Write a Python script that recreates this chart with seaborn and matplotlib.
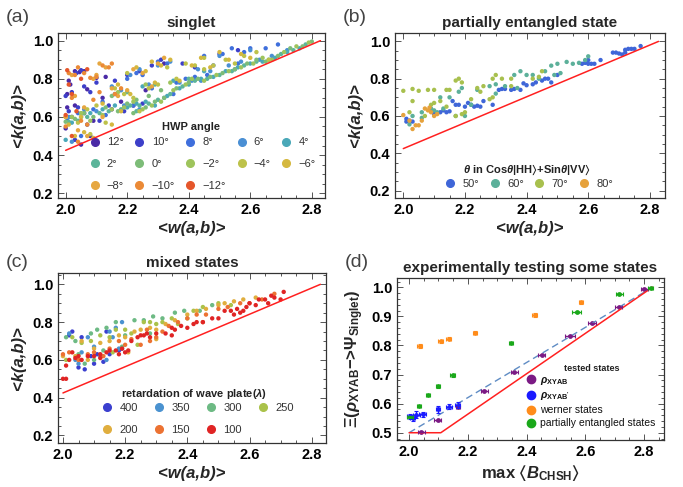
import pandas as pd
import seaborn as sns
import matplotlib.pyplot as plt
from matplotlib.ticker import MultipleLocator
from matplotlib.lines import Line2D

# ---------------- (a) singlet, points per HWP angle ----------------
hwp_p12 = [(2.03,0.84),(2.045,0.835),(2.06,0.84),(2.005,0.72),(2.01,0.79),(2.07,0.745),(2.005,0.65),(2.03,0.66),
           (2.08,0.5),(2.05,0.455),(2.13,0.81),(2.10,0.805),(2.02,0.6),(2.12,0.7),(2.0,0.54),(2.015,0.77),
           (2.06,0.62),(2.09,0.58),(2.15,0.64),(2.18,0.68),(2.22,0.66),(2.26,0.74),(2.32,0.88)]
hwp_p10 = [(2.035,0.83),(2.05,0.845),(2.0,0.71),(2.02,0.73),(2.06,0.76),(2.08,0.73),(2.01,0.63),(2.04,0.65),
           (2.07,0.56),(2.03,0.48),(2.1,0.78),(2.16,0.79),(2.2,0.82),(2.24,0.84),(2.28,0.87),(2.31,0.9),
           (2.38,0.88),(2.14,0.66),(2.19,0.63),(2.25,0.67),(2.42,0.86),(2.5,0.93),(2.56,0.95),(2.11,0.58)]
hwp_p8 = [(2.005,0.58),(2.04,0.62),(2.09,0.64),(2.12,0.68),(2.16,0.72),(2.2,0.8),(2.23,0.83),(2.25,0.82),
          (2.3,0.89),(2.33,0.88),(2.36,0.78),(2.39,0.8),(2.42,0.81),(2.45,0.92),(2.48,0.87),(2.51,0.93),
          (2.54,0.96),(2.58,0.94),(2.6,0.96),(2.65,0.96),(2.69,0.98),(2.22,0.66),(2.28,0.75),(2.05,0.5),
          (2.13,0.61),(2.35,0.72),(2.46,0.82),(2.56,0.88)]
hwp_p6 = [(2.01,0.6),(2.02,0.47),(2.06,0.64),(2.1,0.63),(2.15,0.76),(2.18,0.74),(2.21,0.82),(2.24,0.85),
          (2.27,0.77),(2.3,0.87),(2.34,0.89),(2.37,0.78),(2.41,0.79),(2.43,0.85),(2.47,0.84),(2.5,0.92),
          (2.53,0.87),(2.57,0.89),(2.6,0.95),(2.63,0.9),(2.67,0.92),(2.72,0.95),(2.24,0.64),(2.19,0.66),
          (2.32,0.7),(2.44,0.79),(2.55,0.85)]
hwp_p4 = [(2.0,0.48),(2.02,0.57),(2.05,0.6),(2.08,0.62),(2.12,0.64),(2.16,0.66),(2.2,0.65),(2.23,0.67),
          (2.26,0.68),(2.29,0.66),(2.33,0.71),(2.37,0.75),(2.4,0.77),(2.44,0.8),(2.48,0.81),(2.52,0.84),
          (2.56,0.86),(2.6,0.88),(2.64,0.89),(2.68,0.91),(2.72,0.94),(2.76,0.96),(2.25,0.76),(2.35,0.79),
          (2.45,0.84)]
hwp_p2 = [(2.01,0.575),(2.04,0.58),(2.07,0.6),(2.11,0.62),(2.14,0.63),(2.18,0.64),(2.21,0.66),(2.24,0.66),
          (2.27,0.67),(2.3,0.69),(2.34,0.72),(2.38,0.76),(2.42,0.79),(2.46,0.8),(2.5,0.82),(2.54,0.84),
          (2.58,0.87),(2.62,0.89),(2.66,0.9),(2.7,0.93),(2.74,0.95),(2.78,0.98),(2.2,0.73),(2.29,0.77),
          (2.4,0.8),(2.23,0.63)]
hwp_0 = [(2.0,0.575),(2.03,0.59),(2.06,0.62),(2.09,0.6),(2.13,0.65),(2.17,0.63),(2.2,0.67),(2.23,0.69),
         (2.26,0.65),(2.29,0.68),(2.32,0.7),(2.36,0.75),(2.4,0.78),(2.43,0.8),(2.47,0.81),(2.51,0.83),
         (2.55,0.85),(2.59,0.88),(2.62,0.9),(2.65,0.89),(2.69,0.92),(2.73,0.96),(2.77,0.97),(2.8,0.995),
         (2.22,0.62),(2.27,0.71),(2.31,0.74),(2.15,0.71)]
hwp_m2 = [(2.02,0.6),(2.05,0.62),(2.08,0.58),(2.12,0.61),(2.15,0.64),(2.19,0.65),(2.22,0.68),(2.25,0.64),
          (2.28,0.66),(2.31,0.68),(2.35,0.74),(2.39,0.77),(2.41,0.8),(2.45,0.79),(2.49,0.82),(2.53,0.84),
          (2.57,0.86),(2.61,0.88),(2.64,0.91),(2.67,0.9),(2.71,0.94),(2.75,0.97),(2.79,0.99),(2.17,0.73),
          (2.26,0.77),(2.34,0.78)]
hwp_m4 = [(2.0,0.6),(2.04,0.57),(2.07,0.64),(2.1,0.66),(2.13,0.57),(2.16,0.75),(2.19,0.72),(2.22,0.7),
          (2.24,0.63),(2.27,0.75),(2.3,0.77),(2.33,0.86),(2.36,0.8),(2.39,0.88),(2.42,0.87),(2.45,0.85),
          (2.48,0.87),(2.52,0.9),(2.55,0.88),(2.58,0.92),(2.62,0.94),(2.66,0.9),(2.2,0.83),(2.08,0.51),
          (2.45,0.91)]
hwp_m6 = [(2.01,0.56),(2.03,0.5),(2.06,0.52),(2.09,0.49),(2.12,0.67),(2.15,0.56),(2.17,0.77),(2.21,0.72),
          (2.23,0.86),(2.26,0.84),(2.29,0.78),(2.31,0.87),(2.34,0.9),(2.37,0.79),(2.41,0.87),(2.44,0.91),
          (2.47,0.86),(2.5,0.94),(2.53,0.9),(2.57,0.93),(2.6,0.91),(2.18,0.63),(2.05,0.6),(2.28,0.89)]
hwp_m8 = [(2.0,0.6),(2.02,0.82),(2.04,0.53),(2.07,0.5),(2.09,0.8),(2.1,0.82),(2.13,0.86),(2.15,0.75),
          (2.17,0.71),(2.2,0.74),(2.22,0.85),(2.25,0.83),(2.28,0.76),(2.3,0.88),(2.03,0.71),(2.06,0.65),
          (2.12,0.6),(2.32,0.91),(2.11,0.88)]
hwp_m10 = [(2.01,0.83),(2.03,0.82),(2.04,0.86),(2.06,0.83),(2.08,0.805),(2.1,0.81),(2.12,0.87),(2.14,0.86),
           (2.15,0.88),(2.02,0.7),(2.05,0.58),(2.07,0.56),(2.0,0.55),(2.11,0.73),(2.16,0.72),(2.18,0.75),
           (2.04,0.47),(2.09,0.69)]
hwp_m12 = [(2.005,0.845),(2.01,0.77),(2.02,0.72),(2.0,0.61),(2.035,0.63),(2.05,0.8),(2.07,0.85),(2.02,0.5)]

hwp_labels = ['12°', '10°', '8°', '6°', '4°', '2°', '0°', '−2°', '−4°', '−6°', '−8°', '−10°', '−12°']
hwp_colors = ['#4a2aa6', '#3d3fc9', '#3f6fdc', '#4a8fd4', '#4aa8b8', '#5cb59a', '#7dbc78',
              '#9ec45c', '#bdc24a', '#d5b83f', '#e6a740', '#eb8a36', '#e5562b']
hwp_sets = [hwp_p12, hwp_p10, hwp_p8, hwp_p6, hwp_p4, hwp_p2, hwp_0,
            hwp_m2, hwp_m4, hwp_m6, hwp_m8, hwp_m10, hwp_m12]

# ---------------- (b) partially entangled state ----------------
pe_50 = [(2.01,0.57),(2.02,0.575),(2.03,0.57),(2.01,0.585),(2.09,0.625),(2.1,0.61),(2.12,0.62),(2.13,0.63),
         (2.14,0.62),(2.15,0.625),(2.16,0.68),(2.17,0.66),(2.18,0.66),(2.2,0.65),(2.21,0.67),(2.22,0.66),
         (2.23,0.65),(2.24,0.655),(2.25,0.65),(2.26,0.68),(2.29,0.66),(2.31,0.74),(2.32,0.745),(2.33,0.745),
         (2.35,0.74),(2.36,0.745),(2.38,0.74),(2.39,0.775),(2.4,0.765),(2.42,0.77),(2.43,0.78),(2.45,0.79),
         (2.46,0.8),(2.47,0.8),(2.48,0.78),(2.5,0.82),(2.58,0.88),(2.59,0.885),(2.6,0.88),(2.61,0.88),
         (2.62,0.88),(2.64,0.9),(2.6,0.9),(2.68,0.94),(2.69,0.94),(2.7,0.935),(2.72,0.955),(2.73,0.96),
         (2.74,0.96),(2.75,0.96),(2.77,0.975),(2.71,0.93),(2.72,0.94)]
pe_60 = [(2.02,0.555),(2.03,0.6),(2.06,0.59),(2.09,0.64),(2.11,0.62),(2.12,0.7),(2.15,0.7),(2.18,0.73),
         (2.19,0.75),(2.2,0.6),(2.22,0.66),(2.24,0.74),(2.3,0.77),(2.33,0.76),(2.36,0.82),(2.38,0.84),
         (2.37,0.75),(2.4,0.82),(2.42,0.82),(2.46,0.84),(2.49,0.82),(2.5,0.88),(2.51,0.83),(2.55,0.88),
         (2.57,0.885),(2.6,0.92),(2.59,0.9),(2.48,0.87),(2.44,0.8),(2.53,0.89),(2.06,0.62),(2.13,0.64),
         (2.1,0.63),(2.28,0.76),(2.17,0.6),(2.3,0.72)]
pe_70 = [(2.0,0.735),(2.02,0.62),(2.03,0.745),(2.05,0.735),(2.03,0.68),(2.07,0.6),(2.08,0.74),(2.09,0.66),
         (2.1,0.67),(2.12,0.68),(2.14,0.74),(2.15,0.74),(2.17,0.79),(2.18,0.8),(2.19,0.78),(2.2,0.62),
         (2.22,0.69),(2.24,0.75),(2.25,0.73),(2.29,0.8),(2.3,0.82),(2.32,0.8),(2.28,0.69),(2.29,0.7),
         (2.35,0.8),(2.42,0.8),(2.44,0.81),(2.45,0.84),(2.17,0.6),(2.19,0.61),(2.14,0.65),(2.35,0.76),
         (2.26,0.76),(2.1,0.74)]
pe_80 = [(2.0,0.605),(2.02,0.575),(2.04,0.55),(2.03,0.53),(2.05,0.55),(2.07,0.64),(2.08,0.63),(2.09,0.62),
         (2.1,0.6),(2.11,0.61),(2.06,0.575),(2.085,0.645)]

pe_labels = ['50°', '60°', '70°', '80°']
pe_colors = ['#3f66d8', '#5cb09a', '#a8c04e', '#e6a23c']
pe_sets = [pe_50, pe_60, pe_70, pe_80]

# ---------------- (c) mixed states ----------------
mx_400 = [(2.03,0.75),(2.02,0.73),(2.05,0.56),(2.07,0.55),(2.09,0.62),(2.11,0.63),(2.13,0.59),(2.14,0.75),
          (2.15,0.63),(2.18,0.65),(2.19,0.66),(2.06,0.72),(2.1,0.58)]
mx_350 = [(2.02,0.74),(2.05,0.58),(2.08,0.72),(2.1,0.67),(2.12,0.62),(2.15,0.75),(2.17,0.77),(2.19,0.8),
          (2.14,0.6),(2.18,0.66),(2.04,0.6),(2.06,0.64),(2.16,0.72)]
mx_300 = [(2.01,0.72),(2.04,0.7),(2.07,0.58),(2.1,0.6),(2.11,0.76),(2.14,0.77),(2.17,0.8),(2.2,0.73),
          (2.23,0.81),(2.26,0.81),(2.29,0.83),(2.32,0.82),(2.36,0.85),(2.39,0.86),(2.44,0.86),(2.48,0.89),
          (2.05,0.63),(2.13,0.65),(2.19,0.67),(2.28,0.74),(2.09,0.74)]
mx_250 = [(2.01,0.6),(2.03,0.72),(2.06,0.69),(2.09,0.7),(2.12,0.73),(2.15,0.72),(2.17,0.76),(2.2,0.76),
          (2.22,0.74),(2.26,0.8),(2.28,0.8),(2.3,0.79),(2.32,0.8),(2.35,0.82),(2.4,0.82),(2.42,0.86),
          (2.45,0.88),(2.5,0.9),(2.54,0.89),(2.16,0.64),(2.24,0.68),(2.37,0.79)]
mx_200 = [(2.0,0.62),(2.04,0.62),(2.08,0.6),(2.1,0.66),(2.12,0.69),(2.15,0.7),(2.18,0.73),(2.2,0.72),
          (2.23,0.75),(2.25,0.76),(2.28,0.77),(2.3,0.76),(2.33,0.79),(2.36,0.81),(2.4,0.84),(2.43,0.86),
          (2.46,0.87),(2.5,0.89),(2.52,0.9),(2.55,0.91),(2.58,0.92),(2.62,0.93),(2.3,0.71),(2.21,0.64),
          (2.06,0.7)]
mx_150 = [(2.0,0.63),(2.02,0.64),(2.05,0.6),(2.08,0.63),(2.1,0.64),(2.13,0.62),(2.15,0.66),(2.18,0.7),
          (2.2,0.68),(2.22,0.71),(2.25,0.68),(2.28,0.7),(2.3,0.72),(2.32,0.75),(2.34,0.78),(2.37,0.8),
          (2.4,0.82),(2.43,0.84),(2.46,0.84),(2.5,0.87),(2.53,0.88),(2.57,0.9),(2.6,0.9),(2.64,0.92),
          (2.68,0.95),(2.45,0.8),(2.27,0.76)]
mx_100 = [(2.0,0.5),(2.01,0.5),(2.01,0.57),(2.02,0.6),(2.04,0.61),(2.06,0.6),(2.08,0.62),(2.1,0.62),
          (2.12,0.63),(2.14,0.64),(2.15,0.65),(2.17,0.65),(2.19,0.66),(2.2,0.64),(2.21,0.65),(2.22,0.7),
          (2.24,0.72),(2.25,0.73),(2.26,0.73),(2.27,0.74),(2.28,0.72),(2.3,0.74),(2.33,0.74),(2.35,0.77),
          (2.36,0.76),(2.38,0.78),(2.4,0.77),(2.42,0.79),(2.43,0.8),(2.45,0.8),(2.48,0.82),(2.5,0.82),
          (2.52,0.86),(2.54,0.86),(2.55,0.84),(2.56,0.87),(2.58,0.86),(2.59,0.88),(2.6,0.9),(2.62,0.89),
          (2.63,0.92),(2.65,0.92),(2.67,0.94),(2.68,0.93),(2.7,0.92),(2.71,0.96),(2.66,0.9),(2.57,0.85),
          (2.35,0.73),(2.18,0.63),(2.12,0.61),(2.05,0.62),(2.03,0.64)]

mx_labels = ['400', '350', '300', '250', '200', '150', '100']
mx_colors = ['#3b3fcf', '#4a92d0', '#6dba84', '#aac24a', '#e0ae3e', '#ec7232', '#e02424']
mx_sets = [mx_400, mx_350, mx_300, mx_250, mx_200, mx_150, mx_100]

# ---------------- (d) experimentally tested states ----------------
rho_x = [2.042, 2.097, 2.167, 2.256, 2.358, 2.451, 2.548, 2.622, 2.713, 2.800]
rho_y = [0.503, 0.543, 0.590, 0.644, 0.708, 0.769, 0.833, 0.877, 0.934, 0.994]
rho_xerr = [0.012, 0.012, 0.008, 0.012, 0.012, 0.013, 0.016, 0.013, 0.012, 0.012]
rho_yerr = [0.002, 0.002, 0.004, 0.002, 0.002, 0.002, 0.002, 0.002, 0.002, 0.002]

rhop_x = [2.003, 2.012, 2.025, 2.047, 2.098, 2.136, 2.165]
rhop_y = [0.556, 0.550, 0.562, 0.563, 0.581, 0.590, 0.596]
rhop_xerr = [0.010, 0.008, 0.012, 0.012, 0.007, 0.010, 0.008]
rhop_yerr = [0.010, 0.010, 0.012, 0.010, 0.012, 0.010, 0.010]

wer_x = [2.036, 2.107, 2.135, 2.224, 2.428, 2.585]
wer_y = [0.799, 0.814, 0.824, 0.844, 0.905, 0.948]
wer_xerr = [0.008, 0.007, 0.009, 0.007, 0.008, 0.007]
wer_yerr = [0.006, 0.005, 0.004, 0.005, 0.006, 0.004]

pent_x = [2.002, 2.034, 2.065, 2.099, 2.148, 2.347, 2.570, 2.716, 2.822]
pent_y = [0.553, 0.592, 0.629, 0.659, 0.698, 0.808, 0.916, 0.977, 0.998]
pent_xerr = [0.010, 0.008, 0.007, 0.007, 0.008, 0.008, 0.014, 0.013, 0.008]
pent_yerr = [0.004, 0.004, 0.004, 0.004, 0.005, 0.004, 0.004, 0.004, 0.003]

bound_x = [2.0, 2.828]
bound_y = [0.425, 1.0]
d_red_x = [2.0, 2.108, 2.828]
d_red_y = [0.5, 0.5, 1.0]
d_dash_x = [2.0, 2.828]
d_dash_y = [0.5, 1.0]

sns.set_style('ticks')
plt.rcParams['font.family'] = ['Liberation Sans', 'DejaVu Sans']
plt.rcParams['font.weight'] = 'bold'
plt.rcParams['mathtext.fontset'] = 'custom'
plt.rcParams['mathtext.rm'] = 'Liberation Sans:bold'
plt.rcParams['mathtext.bf'] = 'Liberation Sans:bold'
plt.rcParams['mathtext.it'] = 'Liberation Sans:italic:bold'
plt.rcParams['mathtext.default'] = 'rm'
plt.rcParams['mathtext.fallback'] = 'stixsans'


def to_frame(sets, labels):
    rows = []
    for pts, lab in zip(sets, labels):
        for x, y in pts:
            rows.append({'x': x, 'y': y, 'group': lab})
    return pd.DataFrame(rows)


def style_axes(ax, xlim, ylim, ymajor, yminor):
    ax.set_xlim(*xlim)
    ax.set_ylim(*ylim)
    ax.xaxis.set_major_locator(MultipleLocator(0.2))
    ax.xaxis.set_minor_locator(MultipleLocator(0.05))
    ax.yaxis.set_major_locator(MultipleLocator(ymajor))
    ax.yaxis.set_minor_locator(MultipleLocator(yminor))
    ax.tick_params(which='both', direction='in', top=True, right=True,
                   labelsize=10.5, width=0.7, color='#555555', labelcolor='black')
    ax.tick_params(which='major', length=4)
    ax.tick_params(which='minor', length=2)
    plt.setp(ax.get_xticklabels() + ax.get_yticklabels(), fontweight='bold')
    for s in ax.spines.values():
        s.set_visible(True)
        s.set_color('#333333')
        s.set_linewidth(0.9)


def dot_legend(ax, labels, colors, order, ncol, anchor, fs, lspace, cspace):
    handles = [Line2D([], [], marker='o', ls='', color=colors[i], markersize=5.5) for i in order]
    ax.legend(handles, [labels[i] for i in order], ncol=ncol, loc='upper left',
              bbox_to_anchor=anchor, frameon=False, borderpad=0, borderaxespad=0,
              handlelength=1.0, handletextpad=0.6, columnspacing=cspace, labelspacing=lspace,
              prop={'weight': 'normal', 'size': fs}, labelcolor='#333333')


fig = plt.figure(figsize=(6.83, 4.87), dpi=100)
ax_a = fig.add_axes([0.0849, 0.5934, 0.391, 0.3388])
ax_b = fig.add_axes([0.5783, 0.5934, 0.3953, 0.3388])
ax_c = fig.add_axes([0.0849, 0.0903, 0.3924, 0.3491])
ax_d = fig.add_axes([0.5813, 0.0965, 0.391, 0.3326])

scatter_panels = [
    (ax_a, hwp_sets, hwp_labels, hwp_colors, 'singlet', (1.975, 2.843), (0.175, 1.04)),
    (ax_b, pe_sets, pe_labels, pe_colors, 'partially entangled state', (1.973, 2.849), (0.16, 1.045)),
    (ax_c, mx_sets, mx_labels, mx_colors, 'mixed states', (1.984, 2.846), (0.16, 1.06)),
]
for ax, sets, labels, colors, title, xlim, ylim in scatter_panels:
    df = to_frame(sets, labels)
    sns.scatterplot(data=df, x='x', y='y', hue='group', hue_order=labels,
                    palette=dict(zip(labels, colors)), s=10, linewidth=0,
                    legend=False, ax=ax)
    ax.plot(bound_x, bound_y, color='#ff2020', lw=1.1)
    style_axes(ax, xlim, ylim, 0.2, 0.05)
    ax.set_title(title, fontsize=11, fontweight='bold', pad=4)
    ax.set_xlabel('<w(a,b)>', fontsize=12, fontstyle='italic', fontweight='bold', labelpad=3)
    ax.set_ylabel('<k(a,b)>', fontsize=12, fontstyle='italic', fontweight='bold', labelpad=5)

# legends of the scatter panels
ax_a.text(0.498, 0.43, 'HWP angle', transform=ax_a.transAxes, ha='center', va='center',
          fontsize=8, fontweight='bold', color='#222222')
dot_legend(ax_a, hwp_labels, hwp_colors, [0, 5, 10, 1, 6, 11, 2, 7, 12, 3, 8, 4, 9], 5,
           (0.116, 0.367), 8, 1.05, 0.9)

ax_b.text(0.489, 0.172, r'$\mathit{\theta}$ in Cos$\mathit{\theta}$|HH$\rangle$+Sin$\mathit{\theta}$|VV$\rangle$',
          transform=ax_b.transAxes, ha='center', va='center', fontsize=8, fontweight='bold', color='#222222')
dot_legend(ax_b, pe_labels, pe_colors, [0, 1, 2, 3], 4, (0.185, 0.118), 8, 0.3, 0.9)

ax_c.text(0.507, 0.288, r'retardation of wave plate($\mathit{\lambda}$)', transform=ax_c.transAxes,
          ha='center', va='center', fontsize=8, fontweight='bold', color='#222222')
dot_legend(ax_c, mx_labels, mx_colors, [0, 4, 1, 5, 2, 6, 3], 4, (0.164, 0.238), 8, 1.15, 1.4)

# ---------------- panel (d) ----------------
d_sets = [
    (rho_x, rho_y, rho_xerr, rho_yerr, '#7b1a84', r'$\mathit{\rho}_{XYAB}$'),
    (rhop_x, rhop_y, rhop_xerr, rhop_yerr, '#1a1aff', r"$\mathit{\rho}_{XYAB'}$"),
    (wer_x, wer_y, wer_xerr, wer_yerr, '#ff8c1a', 'werner states'),
    (pent_x, pent_y, pent_xerr, pent_yerr, '#1aa81a', 'partially entangled states'),
]
ax_d.plot(d_dash_x, d_dash_y, color='#5f8cc4', lw=1.0, dashes=(5, 3))
ax_d.plot(d_red_x, d_red_y, color='#ff2020', lw=1.1)
for xs, ys, xe, ye, col, lab in d_sets:
    ax_d.errorbar(xs, ys, xerr=xe, yerr=ye, fmt='none', ecolor=col, elinewidth=1.0,
                  capsize=1.5, capthick=0.8)
    sns.scatterplot(x=xs, y=ys, color=col, s=12, linewidth=0, ax=ax_d, legend=False)
style_axes(ax_d, (1.959, 2.868), (0.475, 1.032), 0.1, 0.02)
ax_d.set_title('experimentally testing some states', fontsize=11, fontweight='bold', pad=4)
ax_d.set_xlabel(r'max $\langle\mathit{B}_{CHSH}\rangle$', fontsize=12, fontweight='bold', labelpad=3)
ax_d.set_ylabel(r'$\Xi(\mathit{\rho}_{XYAB}$−>$\Psi_{Singlet})$', fontsize=12, fontweight='bold', labelpad=4)

ax_d.text(0.73, 0.444, 'tested states', transform=ax_d.transAxes, ha='center', va='center',
          fontsize=6.5, fontweight='bold', color='#222222')
d_handles = [Line2D([], [], marker='o', ls='', color=c, markersize=6) for _, _, _, _, c, _ in d_sets]
ax_d.legend(d_handles, [lab for *_, lab in d_sets], loc='upper left', bbox_to_anchor=(0.481, 0.401),
            frameon=False, borderpad=0, borderaxespad=0, handlelength=1.0, handletextpad=0.4,
            labelspacing=0.3, prop={'weight': 'normal', 'size': 7.5}, labelcolor='#111111')

# panel letters
for txt, x, y in [('(a)', 0.008, 0.965), ('(b)', 0.502, 0.965), ('(c)', 0.008, 0.462), ('(d)', 0.505, 0.462)]:
    fig.text(x, y, txt, fontsize=14, fontweight='normal', color='#444444', va='center')

fig.savefig('out.png', dpi=100)
